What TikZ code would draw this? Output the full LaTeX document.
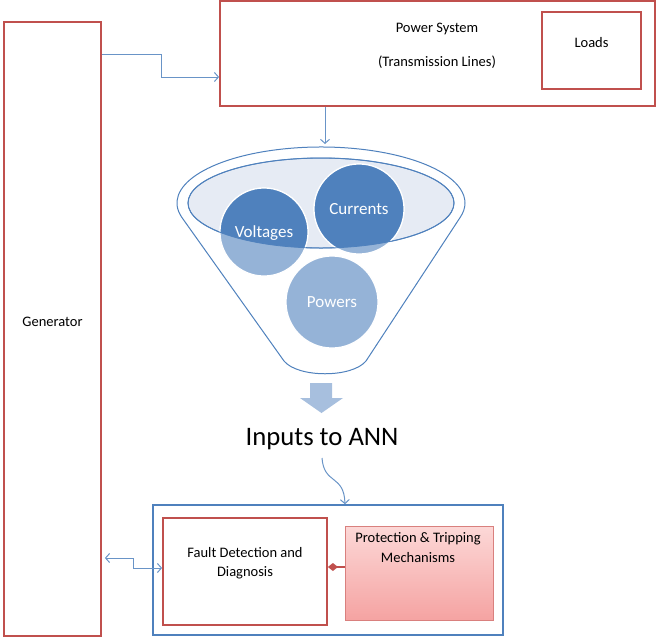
\documentclass[tikz,border=0pt]{standalone}
\usepackage{fontspec}
\setmainfont{Carlito}
\usetikzlibrary{arrows.meta,calc,shapes.geometric}
\definecolor{rd}{HTML}{C0504D}
\definecolor{bl}{HTML}{4F81BD}
\definecolor{ellfill}{HTML}{E6EBF4}
\definecolor{lightc}{HTML}{95B3D7}
\definecolor{blockarr}{HTML}{A7BFDE}
\definecolor{pinktop}{HTML}{FCD8D7}
\definecolor{pinkbot}{HTML}{F5A3A2}
\definecolor{pinkline}{HTML}{D9807E}
\begin{document}
\begin{tikzpicture}[x=1pt,y=-1pt,
  redbox/.style={draw=rd,line width=1.8pt,rectangle,inner sep=0pt},
  bluebox/.style={draw=bl,line width=1.6pt,rectangle,inner sep=0pt},
  small/.style={font=\fontsize{14.5}{17}\selectfont,text=black},
  conn/.style={draw=bl!85,line width=1pt,arrows={-Straight Barb[length=4pt,width=9pt]}},
  circ/.style={circle,draw=white,line width=1.2pt,inner sep=0pt,minimum size=#1},
  circlabel/.style={font=\fontsize{17}{20}\selectfont,text=white}]
\useasboundingbox (0,0) rectangle (658,638);

% boxes
\node[redbox,minimum width=97pt,minimum height=614pt] (gen) at (52.5,329) {};
\node[small] (gentext) at (52.5,322) {Generator};
\node[redbox,minimum width=435pt,minimum height=105pt] (ps) at (437.5,53.5) {};
\node[small] (pstext1) at (437,29) {Power System};
\node[small] (pstext2) at (437,62) {(Transmission Lines)};
\node[redbox,minimum width=99pt,minimum height=77pt] (loads) at (591.5,50.5) {};
\node[small] (loadstext) at (591.5,43) {Loads};

% generator -> power system
\coordinate (g1) at (161,54);
\coordinate (g2) at (161,77);
\draw[conn] (gen.east |- g1) -- (g1) -- (g2) -- (ps.west |- g2);

% funnel
\coordinate (fc) at (321,203);
\draw[draw=bl,line width=1pt,fill=white]
  ($(fc)+({144*cos(165)},{56*sin(165)})$) arc[start angle=165,end angle=375,x radius=144,y radius=56]
  -- (366,361) .. controls (352,378) and (298,378) .. (284,361) -- cycle;
\node[draw=bl,line width=1pt,fill=ellfill,ellipse,minimum width=266pt,minimum height=90pt,inner sep=0pt] (ell) at (fc) {};
\coordinate (fin) at (325,144);
\draw[conn] (ps.south -| fin) -- (fin);

% circles (light)
\node[circ=88pt,fill=lightc] (volt) at (264,232) {};
\node[circ=90pt,fill=lightc] (curr) at (359,209) {};
\node[circ=92pt,fill=lightc] (pow) at (332,302) {};
\begin{scope}
  \clip (fc) ellipse[x radius=133,y radius=45];
  \fill[bl] (264,232) circle[radius=44];
  \fill[bl] (359,209) circle[radius=45];
  \draw[white,line width=1.2pt] (264,232) circle[radius=44];
  \draw[white,line width=1.2pt] (359,209) circle[radius=45];
\end{scope}
\draw[bl,line width=0.8pt] (fc) ellipse[x radius=133,y radius=45];
\node[circlabel] (voltt) at (264,233) {Voltages};
\node[circlabel] (currt) at (359,209) {Currents};
\node[circlabel] (powt) at (332,302) {Powers};

% block arrow
\fill[blockarr] (310,383) -- (332,383) -- (332,398) -- (343,398) -- (321.5,413) -- (300,398) -- (310,398) -- cycle;

% inputs text
\node[font=\fontsize{26.7}{30}\selectfont] (ann) at (322,439) {Inputs to ANN};

% bottom
\node[bluebox,minimum width=350pt,minimum height=130pt] (bot) at (328,570) {};
\node[redbox,minimum width=164pt,minimum height=107pt] (fault) at (245,571.5) {};
\node[small] (faulttext1) at (245,553) {Fault Detection and};
\node[small] (faulttext2) at (245,573) {Diagnosis};
\shade[top color=pinktop,bottom color=pinkbot] (345,526) rectangle (493,620);
\node[draw=pinkline,line width=1pt,minimum width=148pt,minimum height=94pt,inner sep=0pt] (prot) at (419,573) {};
\node[small] (prottext1) at (418,539) {Protection \& Tripping};
\node[small] (prottext2) at (418,558) {Mechanisms};

\draw[rd,line width=1.5pt,{Diamond[length=10pt,width=8pt]}-] (fault.east |- 0,567) -- (prot.west |- 0,567);

% inputs -> bottom box
\coordinate (c1) at (322,458);
\draw[conn] (c1) .. controls (324,485) and (344,474) .. (bot.north -| 345,0);

% double arrow
\coordinate (d1) at (133,558);
\coordinate (d2) at (133,568);
\draw[conn,arrows={Straight Barb[length=4pt,width=9pt]-Straight Barb[length=4pt,width=9pt]}] ($(gen.east |- d1)+(3,0)$) -- (d1) -- (d2) -- (fault.west |- d2);
\end{tikzpicture}
\end{document}
